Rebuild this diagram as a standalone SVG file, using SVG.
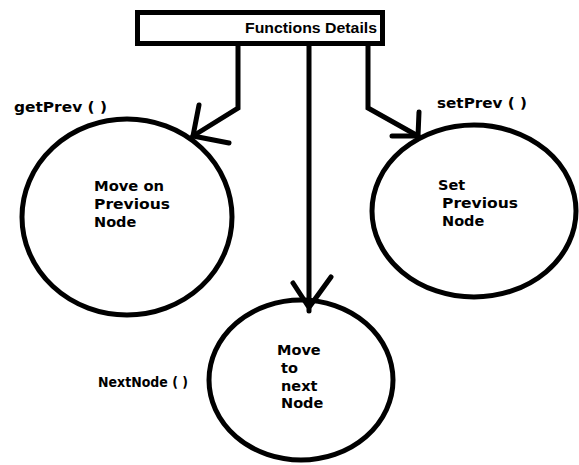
<svg xmlns="http://www.w3.org/2000/svg" width="579" height="465" viewBox="0 0 579 465">
<style>
.bg{fill:#fff}
.shape{fill:#fff;stroke:#000;stroke-width:5}
.line{fill:none;stroke:#000;stroke-width:5;stroke-linecap:round;stroke-linejoin:miter}
.t{font-family:"DejaVu Sans",Verdana,sans-serif;font-weight:bold;font-size:14.5px;fill:#000}
.title{font-family:"Liberation Sans",Arial,sans-serif;font-weight:bold;font-size:15.5px;fill:#000}
</style>
<rect class="bg" x="0" y="0" width="579" height="465"/>
<g id="connectors">
<polyline class="line" points="238,46 238,108 193,136"/>
<line class="line" x1="199" y1="105" x2="193" y2="136"/>
<line class="line" x1="229" y1="143" x2="193" y2="136"/>
<line class="line" x1="309" y1="46" x2="309" y2="311"/>
<line class="line" x1="293" y1="283" x2="308" y2="306"/>
<line class="line" x1="331" y1="277" x2="310" y2="306"/>
<polyline class="line" points="368,46 368,108 418,136"/>
<line class="line" x1="419" y1="112" x2="418" y2="136"/>
<line class="line" x1="392" y1="136" x2="418" y2="136"/>
</g>
<g id="title">
<rect class="shape" x="137.5" y="12.5" width="245" height="31"/>
<text class="title" x="245" y="33" textLength="132" lengthAdjust="spacingAndGlyphs">Functions Details</text>
</g>
<g id="getPrev">
<ellipse class="shape" cx="127" cy="217" rx="105" ry="98" fill-opacity="0"/>
<text class="t" x="14" y="112" textLength="93" lengthAdjust="spacingAndGlyphs">getPrev ( )</text>
<text class="t" x="94" y="191" textLength="70" lengthAdjust="spacingAndGlyphs">Move on</text>
<text class="t" x="94" y="209" textLength="76" lengthAdjust="spacingAndGlyphs">Previous</text>
<text class="t" x="94" y="227">Node</text>
</g>
<g id="setPrev">
<ellipse class="shape" cx="474" cy="211" rx="102" ry="86" fill-opacity="0"/>
<text class="t" x="437" y="108" textLength="90" lengthAdjust="spacingAndGlyphs">setPrev ( )</text>
<text class="t" x="438" y="190">Set</text>
<text class="t" x="442" y="208" textLength="76" lengthAdjust="spacingAndGlyphs">Previous</text>
<text class="t" x="442" y="226">Node</text>
</g>
<g id="nextNode">
<ellipse class="shape" cx="301" cy="380" rx="92" ry="80" fill-opacity="0"/>
<text class="t" x="98" y="387" textLength="90" lengthAdjust="spacingAndGlyphs">NextNode ( )</text>
<text class="t" x="277" y="355">Move</text>
<text class="t" x="281" y="373">to</text>
<text class="t" x="281" y="391">next</text>
<text class="t" x="281" y="408">Node</text>
</g>
</svg>
